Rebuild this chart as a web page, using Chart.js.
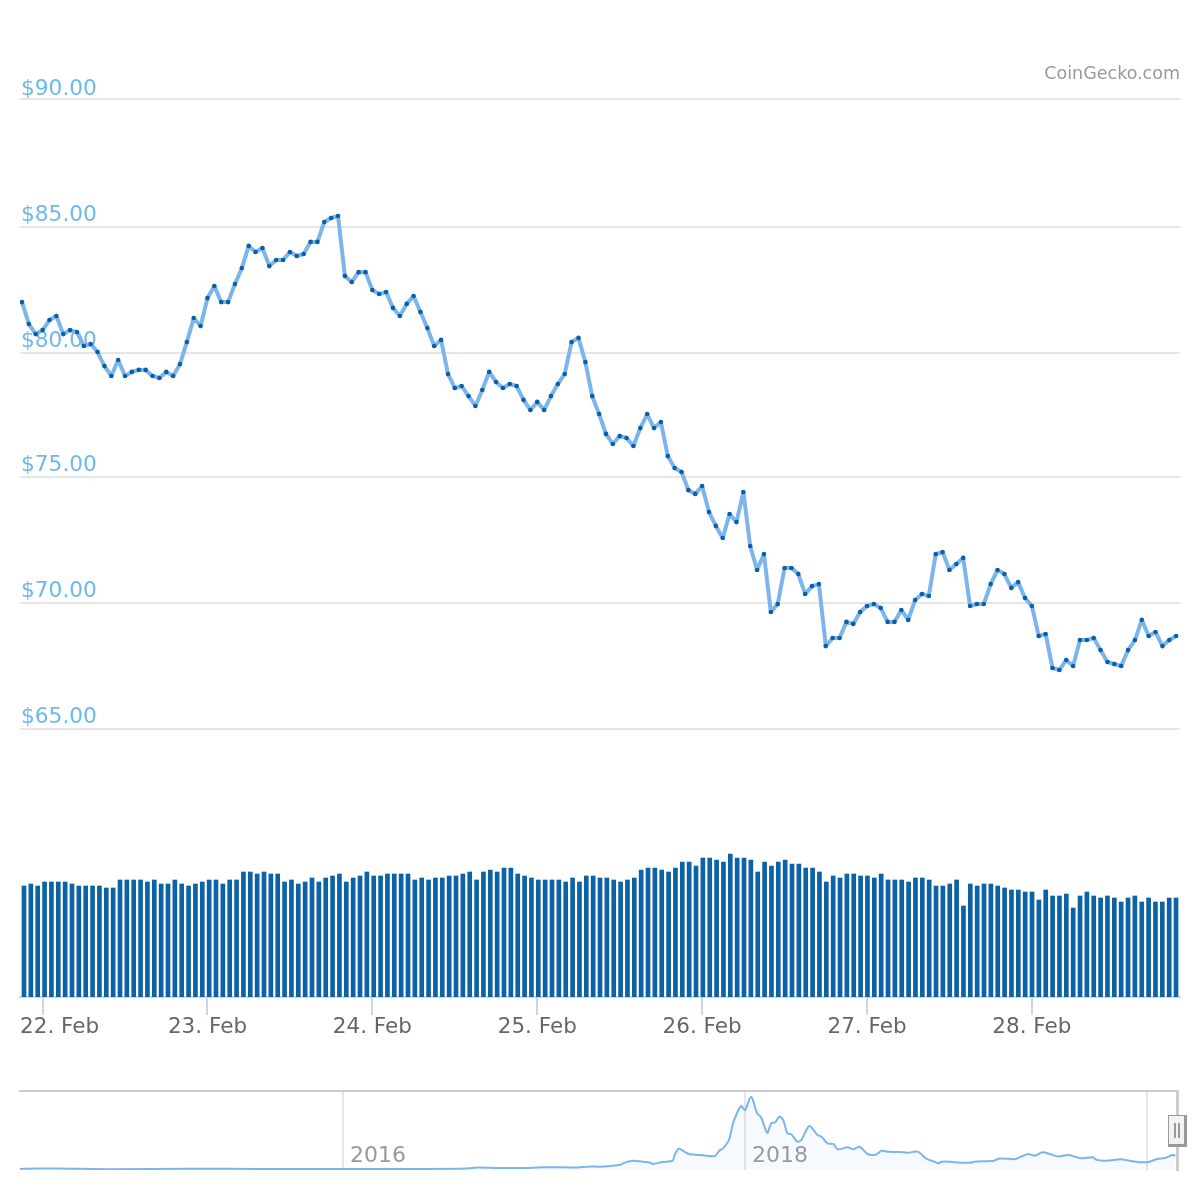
<!DOCTYPE html>
<html>
<head>
<meta charset="utf-8">
<title>Price chart</title>
<script src="https://cdn.jsdelivr.net/npm/chart.js@4/dist/chart.umd.min.js"></script>
<style>
    html, body { margin: 0; padding: 0; background: #fff; }
    canvas { position: absolute; left: 0; }
    #mainChart { top: 0; }
    #navChart { top: 1060px; }
</style>
</head>
<body>
<canvas id="mainChart" width="1200" height="1060"></canvas>
<canvas id="navChart" width="1200" height="130"></canvas>
<script>
// Hourly price, 169 readings
const prices = [
    81.94, 81.07, 80.67, 80.83, 81.23, 81.39, 80.67, 80.83, 80.75, 80.20, 80.28, 79.96, 79.40,
    79.01, 79.64, 79.01, 79.17, 79.25, 79.25, 79.01, 78.93, 79.17, 79.01, 79.48, 80.36, 81.31,
    80.99, 82.10, 82.58, 81.94, 81.94, 82.66, 83.29, 84.17, 83.93, 84.09, 83.37, 83.61, 83.61,
    83.93, 83.77, 83.85, 84.33, 84.33, 85.12, 85.28, 85.36, 82.98, 82.74, 83.13, 83.13, 82.42,
    82.26, 82.34, 81.71, 81.39, 81.87, 82.18, 81.55, 80.91, 80.20, 80.44, 79.09, 78.53, 78.61,
    78.21, 77.82, 78.45, 79.17, 78.77, 78.53, 78.69, 78.61, 78.06, 77.66, 77.98, 77.66, 78.21,
    78.69, 79.09, 80.36, 80.52, 79.56, 78.21, 77.50, 76.71, 76.31, 76.63, 76.55, 76.23, 76.94,
    77.50, 76.94, 77.18, 75.83, 75.36, 75.20, 74.48, 74.33, 74.64, 73.61, 73.06, 72.58, 73.53,
    73.21, 74.40, 72.26, 71.31, 71.94, 69.64, 69.96, 71.39, 71.39, 71.15, 70.36, 70.67, 70.75,
    68.29, 68.61, 68.61, 69.25, 69.17, 69.64, 69.88, 69.96, 69.80, 69.25, 69.25, 69.72, 69.33,
    70.12, 70.36, 70.28, 71.94, 72.02, 71.31, 71.55, 71.79, 69.88, 69.96, 69.96, 70.75, 71.31,
    71.15, 70.60, 70.83, 70.20, 69.88, 68.69, 68.77, 67.42, 67.34, 67.74, 67.50, 68.53, 68.53,
    68.61, 68.13, 67.66, 67.58, 67.50, 68.13, 68.53, 69.33, 68.69, 68.85, 68.29, 68.53, 68.69
];

const volumes = [
    1.11, 1.13, 1.11, 1.15, 1.15, 1.15, 1.15, 1.13, 1.11, 1.11, 1.11, 1.11, 1.09, 1.09, 1.17, 1.17,
    1.17, 1.17, 1.15, 1.17, 1.13, 1.13, 1.17, 1.13, 1.11, 1.13, 1.15, 1.17, 1.17, 1.13, 1.17, 1.17,
    1.25, 1.25, 1.23, 1.25, 1.23, 1.23, 1.15, 1.17, 1.13, 1.15, 1.19, 1.15, 1.19, 1.21, 1.23, 1.15,
    1.19, 1.21, 1.25, 1.21, 1.21, 1.23, 1.23, 1.23, 1.23, 1.17, 1.19, 1.17, 1.19, 1.19, 1.21, 1.21,
    1.23, 1.25, 1.17, 1.25, 1.27, 1.25, 1.29, 1.29, 1.23, 1.21, 1.19, 1.17, 1.17, 1.17, 1.17, 1.15,
    1.19, 1.15, 1.21, 1.21, 1.19, 1.19, 1.17, 1.15, 1.17, 1.19, 1.27, 1.29, 1.29, 1.27, 1.25, 1.29,
    1.35, 1.35, 1.31, 1.39, 1.39, 1.37, 1.35, 1.43, 1.39, 1.39, 1.37, 1.25, 1.35, 1.31, 1.35, 1.37,
    1.33, 1.33, 1.29, 1.29, 1.25, 1.15, 1.21, 1.19, 1.23, 1.23, 1.21, 1.21, 1.19, 1.23, 1.17, 1.17,
    1.17, 1.15, 1.19, 1.19, 1.17, 1.11, 1.11, 1.13, 1.17, 0.91, 1.13, 1.11, 1.13, 1.13, 1.11, 1.09,
    1.07, 1.07, 1.05, 1.05, 0.97, 1.07, 1.01, 1.01, 1.03, 0.89, 1.01, 1.05, 1.01, 0.99, 1.01, 0.99,
    0.95, 0.99, 1.01, 0.95, 0.99, 0.95, 0.95, 0.99, 0.99
];

const dayLabels = ['22. Feb', '23. Feb', '24. Feb', '25. Feb', '26. Feb', '27. Feb', '28. Feb'];
const dayTickIndex = [3, 27, 51, 75, 99, 123, 147];
const priceTicks = [65, 70, 75, 79.92, 84.92, 90];
const priceTickLabels = ['$65.00', '$70.00', '$75.00', '$80.00', '$85.00', '$90.00'];

// All time overview
const navYears = [
    2014.39, 2014.47, 2014.59, 2014.84, 2015.24, 2015.59, 2016.00, 2016.38, 2016.61, 2016.67, 2016.78,
    2016.93, 2017.00, 2017.15, 2017.23, 2017.28, 2017.33, 2017.38, 2017.40, 2017.44, 2017.49, 2017.53,
    2017.54, 2017.59, 2017.64, 2017.65, 2017.67, 2017.69, 2017.72, 2017.75, 2017.79, 2017.85, 2017.87,
    2017.89, 2017.92, 2017.94, 2017.98, 2018.00, 2018.03, 2018.06, 2018.08, 2018.11, 2018.13, 2018.15,
    2018.17, 2018.19, 2018.21, 2018.23, 2018.26, 2018.28, 2018.32, 2018.36, 2018.38, 2018.41, 2018.44,
    2018.46, 2018.51, 2018.54, 2018.57, 2018.61, 2018.65, 2018.68, 2018.71, 2018.77, 2018.81, 2018.86,
    2018.90, 2018.95, 2018.96, 2018.98, 2019.02, 2019.07, 2019.12, 2019.14, 2019.24, 2019.26, 2019.31,
    2019.34, 2019.38, 2019.41, 2019.44, 2019.48, 2019.52, 2019.56, 2019.61, 2019.67, 2019.73, 2019.75,
    2019.80, 2019.87, 2019.92, 2020.00, 2020.05, 2020.09, 2020.13, 2020.14
];
const navPrices = [
    4.7, 6.6, 6.6, 3.8, 6.1, 4.7, 4.7, 4.7, 6.6, 12.3, 9.5,
    9.5, 13.2, 11.8, 17, 15.6, 18.9, 25, 34.5, 44, 39, 34.5,
    28.4, 37.8, 44, 71, 100.7, 91.3, 75.7, 72.4, 69.5, 66.2, 89.9,
    102.6, 141.9, 220.9, 302.7, 283.8, 346.7, 268.2, 249.3, 176.4, 220.9, 225.6,
    252.1, 236.5, 173.6, 168.9, 133.9, 141.9, 208.1, 165.6, 157.5, 126.3, 123,
    97.9, 107.4, 97.9, 110.2, 75.7, 72.4, 91.3, 86.6, 85.1, 81.8, 86.6,
    55.3, 36.4, 31.7, 39.3, 39.3, 34.5, 34.5, 39.3, 44, 53.4, 53.4,
    50.6, 66.2, 75.7, 67.6, 83.7, 74.3, 63.9, 71, 55.3, 60, 47.3,
    44, 50.6, 42.6, 36.4, 52, 56.8, 72.4, 66.2
];
const navTickYears = [2016, 2018, 2020];
const navTickLabels = ['2016', '2018', ''];

const fontName = '"DejaVu Sans", sans-serif';

// first day label is pushed right so it stays inside the plot, top price label sits a bit lower
const labelNudge = {
    id: 'labelNudge',
    afterUpdate(chart) {
        const dayItems = chart.scales.x.getLabelItems();
        if (dayItems.length) dayItems[0].options.translation[0] += 17;
        const priceItems = chart.scales.y.getLabelItems();
        if (priceItems.length) priceItems[priceItems.length - 1].options.translation[1] += 2;
    }
};

// slider handle at the right end of the overview
const navHandle = {
    id: 'navHandle',
    afterDraw(chart) {
        const ctx = chart.ctx;
        const x = chart.scales.x.right;
        const y = Math.round((chart.chartArea.top + chart.chartArea.bottom) / 2);
        ctx.save();
        ctx.fillStyle = '#999';
        ctx.fillRect(x - 9, y - 16, 19, 32);
        ctx.fillStyle = '#f2f2f2';
        ctx.fillRect(x - 8, y - 15, 15, 28);
        ctx.fillStyle = '#999';
        ctx.fillRect(x - 3, y - 8, 2, 15);
        ctx.fillRect(x + 1, y - 8, 2, 15);
        ctx.restore();
    }
};

new Chart(document.getElementById('mainChart'), {
    data: {
        datasets: [
            {
                type: 'line',
                data: prices.map((p, i) => ({ x: i, y: p })),
                xAxisID: 'x',
                yAxisID: 'y',
                borderColor: '#7cb5ec',
                borderWidth: 4,
                borderJoinStyle: 'round',
                tension: 0,
                pointRadius: 2.3,
                pointBorderWidth: 0,
                pointBackgroundColor: '#0b5fa5',
                order: 1
            },
            {
                type: 'bar',
                data: volumes.map((v, i) => ({ x: i, y: v })),
                xAxisID: 'xVol',
                yAxisID: 'yVol',
                backgroundColor: '#0b62a4',
                barThickness: 4,
                order: 2
            }
        ]
    },
    options: {
        responsive: false,
        animation: false,
        devicePixelRatio: 1,
        layout: { padding: { left: 20, right: 20 } },
        plugins: {
            legend: { display: false },
            tooltip: { enabled: false },
            title: {
                display: true,
                text: 'CoinGecko.com',
                align: 'end',
                color: '#999',
                font: { family: fontName, size: 17.5, weight: 'normal', lineHeight: 1 },
                padding: { top: 66, bottom: 2.5 }
            }
        },
        scales: {
            x: {
                type: 'linear',
                min: -0.291,
                max: 168.56,
                afterFit: axis => { axis.height = 63; },
                afterBuildTicks: axis => { axis.ticks = dayTickIndex.map(v => ({ value: v })); },
                border: { color: '#ccd6eb', width: 2 },
                grid: { drawOnChartArea: false, color: '#ccd6eb', lineWidth: 2, tickLength: 18 },
                ticks: {
                    autoSkip: false,
                    maxRotation: 0,
                    color: '#666',
                    padding: 0,
                    font: { family: fontName, size: 21.5 },
                    callback: (val, idx) => dayLabels[idx]
                }
            },
            xVol: { type: 'linear', display: false, offset: false, min: -0.291, max: 168.87 },
            y: {
                type: 'linear',
                position: 'left',
                min: 54.365,
                max: 90.516,
                afterFit: axis => { axis.width = 0; },
                afterBuildTicks: axis => { axis.ticks = priceTicks.map(v => ({ value: v })); },
                border: { display: false },
                grid: { color: '#e6e6e6', lineWidth: 2, drawTicks: false },
                ticks: {
                    mirror: true,
                    padding: 1,
                    labelOffset: -12,
                    color: '#6cb9ec',
                    font: { family: fontName, size: 21.7 },
                    callback: (val, idx) => priceTickLabels[idx]
                }
            },
            yVol: { type: 'linear', display: false, min: 0, max: 9.11 }
        }
    },
    plugins: [labelNudge]
});

new Chart(document.getElementById('navChart'), {
    type: 'line',
    data: {
        datasets: [{
            data: navYears.map((yr, i) => ({ x: yr, y: navPrices[i] })),
            borderColor: '#7cb5ec',
            borderWidth: 2,
            borderJoinStyle: 'round',
            tension: 0.3,
            pointRadius: 0,
            fill: 'origin',
            backgroundColor: 'rgba(124, 181, 236, 0.07)'
        }]
    },
    options: {
        responsive: false,
        animation: false,
        devicePixelRatio: 1,
        layout: { padding: { left: 20, right: 23, top: 31 } },
        plugins: { legend: { display: false }, tooltip: { enabled: false } },
        scales: {
            x: {
                type: 'linear',
                min: 2014.393,
                max: 2020.149,
                afterFit: axis => { axis.height = 20; },
                afterBuildTicks: axis => { axis.ticks = navTickYears.map(v => ({ value: v })); },
                border: { display: false },
                grid: { color: '#e6e6e6', lineWidth: 2, drawTicks: false },
                ticks: {
                    autoSkip: false,
                    maxRotation: 0,
                    mirror: true,
                    padding: 1,
                    labelOffset: 35,
                    color: '#999',
                    font: { family: fontName, size: 22 },
                    callback: (val, idx) => navTickLabels[idx]
                }
            },
            xTop: {
                type: 'linear',
                position: 'top',
                afterFit: axis => { axis.height = 0; },
                border: { color: '#ccc', width: 2 },
                grid: { display: false, drawTicks: false },
                ticks: { display: false }
            },
            y: {
                type: 'linear',
                position: 'right',
                min: 0,
                max: 373.7,
                afterFit: axis => { axis.width = 0; },
                border: { color: '#ccc', width: 3 },
                grid: { display: false, drawTicks: false },
                ticks: { display: false }
            }
        }
    },
    plugins: [navHandle]
});
</script>
</body>
</html>
